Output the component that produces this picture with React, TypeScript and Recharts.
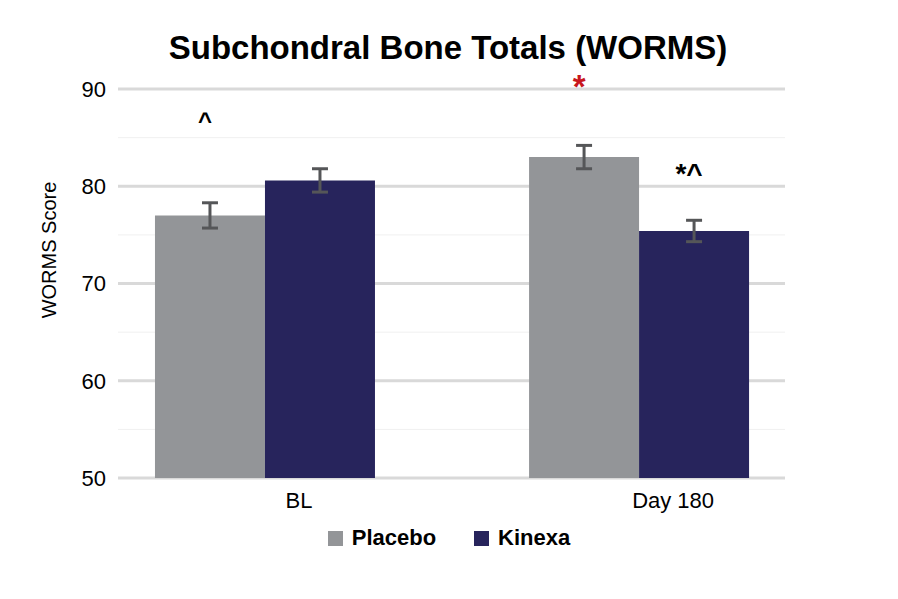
import React from 'react';
import { BarChart, Bar, XAxis, YAxis, CartesianGrid, Legend, ErrorBar, LabelList } from 'recharts';

const FONT = '"Liberation Sans", Arial, sans-serif';

// categories and values
const categories = ['BL', 'Day 180'];
const placebo = [77.0, 83.0];
const kinexa = [80.6, 75.4];
const placeboErr = [1.3, 1.2];
const kinexaErr = [1.2, 1.1];

// significance marks, with the score level their baseline sits at
const placeboMarks = ['^', '*'];
const placeboMarkLevel = [85.9, 89.1];
const kinexaMarks = ['', '*^'];
const kinexaMarkLevel = [0, 80.3];

const yDomain = [50, 90];
const yTicks = [50, 60, 70, 80, 90];
const yMinorTicks = [55, 65, 75, 85];

const series = [
  { key: 'placebo', name: 'Placebo', color: '#939598' },
  { key: 'kinexa', name: 'Kinexa', color: '#27245c' },
];

const markStyle: Record<string, { fill: string; size: number; weight: number }> = {
  '^': { fill: '#000000', size: 24, weight: 700 },
  '*': { fill: '#c8161d', size: 33, weight: 700 },
  '*^': { fill: '#000000', size: 28, weight: 700 },
};

const data = categories.map((cat, i) => ({
  pos: i,
  cat,
  placebo: placebo[i],
  kinexa: kinexa[i],
  placeboErr: placeboErr[i],
  kinexaErr: kinexaErr[i],
  placeboMark: placeboMarks[i],
  kinexaMark: kinexaMarks[i],
}));

const XTick = (props: any) => {
  const { x, y, payload } = props;
  return (
    <text x={x + 34} y={y} dy={22} textAnchor="middle" fontSize={22} fontFamily={FONT} fill="#000">
      {categories[payload.value]}
    </text>
  );
};

// puts a mark above the bar at a given score level, using the bar's own px/unit
const makeMark = (values: number[], levels: number[]) => (props: any) => {
  const { x, y, width, height, value, index } = props;
  if (!value || !markStyle[value]) return null;
  const st = markStyle[value];
  const pxPerUnit = height / (values[index] - yDomain[0]);
  const ty = y + (values[index] - levels[index]) * pxPerUnit;
  return (
    <text x={x + width / 2 - 5} y={ty} textAnchor="middle" fontSize={st.size} fontWeight={st.weight} fontFamily={FONT} fill={st.fill}>
      {value}
    </text>
  );
};

const LegendContent = () => (
  <div style={{ display: 'flex', justifyContent: 'center', alignItems: 'center', height: 24, fontFamily: FONT, fontWeight: 700, fontSize: 22, color: '#000' }}>
    {series.map((s, i) => (
      <div key={s.key} style={{ display: 'flex', alignItems: 'center', marginLeft: i ? 38 : 0 }}>
        <span style={{ display: 'inline-block', width: 15, height: 15, background: s.color, marginRight: 9 }} />
        <span>{s.name}</span>
      </div>
    ))}
  </div>
);

const minorGrid = (props: any) => {
  const off = props && props.offset;
  if (!off) return [];
  const span = yDomain[1] - yDomain[0];
  return yMinorTicks.map((v) => off.top + (off.height * (yDomain[1] - v)) / span);
};

export default function App() {
  return (
    <div style={{ position: 'absolute', left: 0, top: 0, width: 898, height: 599, background: '#fff' }}>
      <BarChart width={898} height={599} data={data} margin={{ top: 89, right: 113, bottom: 81, left: 0 }} barGap={0}>
        <CartesianGrid vertical={false} stroke="#f0f0f0" strokeWidth={1} horizontalCoordinatesGenerator={minorGrid} />
        <CartesianGrid vertical={false} stroke="#d9d9d9" strokeWidth={3} />
        <XAxis
          dataKey="pos"
          type="number"
          domain={[-0.393, 1.39]}
          ticks={[0, 1]}
          tickCount={2}
          allowDataOverflow
          axisLine={false}
          tickLine={false}
          height={40}
          tick={<XTick />}
        />
        <YAxis
          domain={yDomain}
          ticks={yTicks}
          width={118}
          allowDataOverflow
          axisLine={false}
          tickLine={false}
          tickMargin={6}
          tick={{ fontSize: 22, fill: '#000', fontFamily: FONT }}
        />
        <Legend
          layout="horizontal"
          verticalAlign="middle"
          align="center"
          content={<LegendContent />}
          wrapperStyle={{ top: 526, left: 0, width: 898, height: 24 }}
        />
        <Bar dataKey="placebo" name="Placebo" fill="#939598" barSize={110} isAnimationActive={false}>
          <ErrorBar dataKey="placeboErr" width={8} strokeWidth={3} stroke="#555658" />
          <LabelList dataKey="placeboMark" content={makeMark(placebo, placeboMarkLevel)} />
        </Bar>
        <Bar dataKey="kinexa" name="Kinexa" fill="#27245c" barSize={110} isAnimationActive={false}>
          <ErrorBar dataKey="kinexaErr" width={8} strokeWidth={3} stroke="#555658" />
          <LabelList dataKey="kinexaMark" content={makeMark(kinexa, kinexaMarkLevel)} />
        </Bar>
      </BarChart>
      <svg width={898} height={599} style={{ position: 'absolute', left: 0, top: 0, pointerEvents: 'none' }}>
        <text x={448} y={59} textAnchor="middle" fontSize={33} fontWeight={700} fontFamily={FONT} fill="#000">
          Subchondral Bone Totals (WORMS)
        </text>
        <text transform="translate(56,250) rotate(-90)" textAnchor="middle" fontSize={20} fontFamily={FONT} fill="#000">
          WORMS Score
        </text>
      </svg>
    </div>
  );
}
